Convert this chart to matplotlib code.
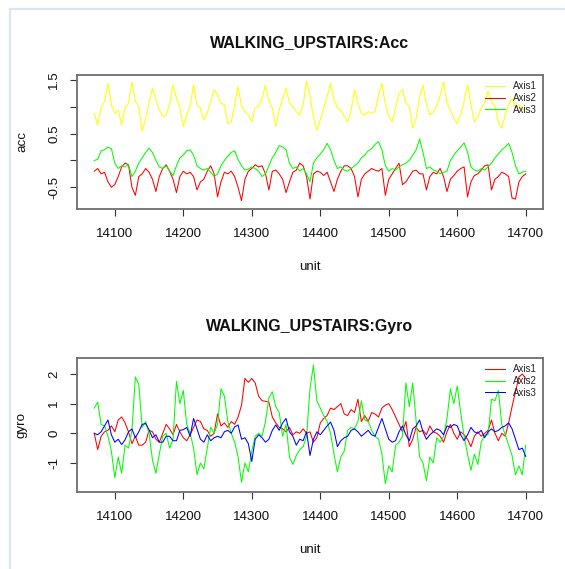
import numpy as np
import matplotlib
matplotlib.use('Agg')
import matplotlib.pyplot as plt
from matplotlib.lines import Line2D

# ---------------- data ----------------
unit = np.arange(14070, 14701, 5)

acc_axis1 = [0.88, 0.66, 0.98, 1.10, 1.44, 1.04, 0.88, 0.94, 0.67, 0.98, 1.07, 1.47, 1.10, 1.01,
             0.54, 0.79, 1.07, 1.35, 1.13, 0.94, 0.82, 0.85, 1.04, 1.41, 1.16, 0.98, 0.63, 0.85,
             1.01, 1.41, 1.04, 0.98, 0.76, 0.88, 1.10, 1.32, 1.22, 1.07, 1.04, 0.69, 0.72,
             1.04, 1.38, 1.01, 0.91, 0.85, 0.72, 0.98, 1.01, 1.16, 1.40, 1.10, 0.98, 0.63, 0.94,
             1.16, 1.35, 1.07, 1.01, 0.91, 0.85, 1.04, 1.48, 1.22, 0.79, 0.57, 0.76, 0.98, 1.19,
             1.44, 1.13, 0.98, 0.94, 0.82, 0.72, 0.94, 1.32, 1.07, 0.88, 0.85, 0.91, 0.88, 0.91,
             1.22, 1.44, 1.04, 0.82,
             0.72, 0.98, 1.26, 1.32, 1.07, 1.01, 0.60, 0.79, 1.19, 1.41, 1.04, 0.85, 0.91, 1.01,
             1.22, 1.47, 1.07, 0.94, 0.79, 0.69, 0.85, 1.10, 1.41, 1.04, 0.72, 0.82, 0.98, 1.07,
             1.29, 1.10, 1.01, 0.72, 0.60, 0.85, 1.04, 1.16, 0.98, 1.04, 0.94, 0.98]

acc_axis2 = [-0.20, -0.15, -0.25, -0.22, -0.40, -0.50, -0.45, -0.30, -0.12, -0.05, -0.08, -0.50,
             -0.65, -0.30, -0.25, -0.15, -0.22, -0.35, -0.58, -0.30, -0.15, -0.08, -0.20, -0.35,
             -0.60, -0.30, -0.20, -0.25, -0.22, -0.30, -0.55, -0.40, -0.35, -0.20, -0.10, -0.25,
             -0.68, -0.40, -0.22, -0.25, -0.20,
             -0.30, -0.50, -0.75, -0.35, -0.20, -0.15, -0.08, -0.12, -0.10, -0.25, -0.55, -0.20,
             -0.18, -0.25, -0.35, -0.60, -0.40, -0.22, -0.18, -0.05, -0.10, -0.30, -0.72, -0.25,
             -0.20, -0.22, -0.28, -0.22, -0.40, -0.58, -0.35, -0.20, -0.10, -0.10, -0.15, -0.30,
             -0.68, -0.35, -0.25, -0.20, -0.15, -0.18, -0.20, -0.15, -0.65, -0.35,
             -0.25, -0.15, -0.05, -0.45, -0.40, -0.30, -0.20, -0.18, -0.25, -0.25, -0.55, -0.30,
             -0.22, -0.25, -0.15, -0.30, -0.58, -0.35, -0.28, -0.20, -0.15, -0.12, -0.68, -0.40,
             -0.28, -0.25, -0.18, -0.10, -0.08, -0.55, -0.35, -0.30, -0.22, -0.25, -0.30, -0.70,
             -0.72, -0.40, -0.30, -0.25]

acc_axis3 = [0.00, 0.02, 0.18, 0.20, 0.25, 0.22, -0.05, -0.15, -0.10, -0.12, -0.08, -0.30, -0.20,
             -0.05, 0.05, 0.15, 0.23, 0.15, 0.00, -0.12, -0.15, -0.10, -0.20, -0.28, -0.10, 0.05,
             0.10, 0.18, 0.20, 0.10, -0.10, -0.15, -0.18, -0.15, -0.22, -0.30, -0.25, -0.10, 0.00,
             0.08, 0.15,
             0.18, 0.02, -0.10, -0.18, -0.16, -0.12, -0.15, -0.20, -0.30, -0.25, -0.10, 0.05, 0.15,
             0.28, 0.25, 0.20, -0.05, -0.15, -0.12, -0.20, -0.15, -0.25, -0.40, -0.05, 0.05, 0.12,
             0.20, 0.32, 0.20, 0.00, -0.15, -0.12, -0.18, -0.20, -0.15, -0.10, -0.05, 0.05, 0.10,
             0.18, 0.22, 0.30, 0.35, 0.20, -0.10, -0.20,
             -0.15, -0.18, -0.12, -0.08, -0.05, 0.00, 0.10, 0.20, 0.40, 0.15, -0.15, -0.12, -0.18,
             -0.20, -0.25, -0.22, -0.20, 0.00, 0.10, 0.18, 0.25, 0.33, 0.15, -0.12, -0.18, -0.20,
             -0.15, -0.18, -0.12, -0.05, 0.05, 0.12, 0.20, 0.25, 0.32, 0.15, -0.10, -0.25, -0.22,
             -0.20]

gyro_axis1 = [0.00, -0.55, -0.10, 0.05, 0.10, 0.25, 0.05, 0.45, 0.55, 0.35, 0.05, -0.35, -0.10,
              -0.40, -0.40, -0.30, 0.10, 0.05, -0.20, -0.30, 0.00, 0.30, 0.15, -0.05, 0.30, 0.05,
              -0.15, -0.25, -0.05, 0.20, 0.45, 0.40, 0.15, 0.10, -0.10, 0.00, 0.65, 0.25, 0.35,
              0.20, 0.40,
              0.30, 0.55, 0.95, 1.85, 1.72, 1.85, 1.70, 1.25, 1.10, 1.08, 1.05, 0.55, 0.35, 0.20,
              0.15, 0.05, 0.20, -0.05, 0.05, 0.00, 0.15, 0.00, 0.05, -0.30, -0.15, 0.35, 0.50,
              0.60, 0.85, 0.80, 0.90, 1.00, 0.65, 0.60, 0.80, 0.70, 1.15, 0.40, 0.60, 0.40, 0.70,
              0.65, 0.55, 0.85, 0.95, 1.00,
              0.80, 0.55, 0.30, 0.05, 0.40, -0.45, -0.20, 0.20, 0.05, 0.10, -0.05, 0.25, 0.05,
              0.00, -0.10, -0.30, 0.05, 0.30, 0.00, -0.20, 0.05, -0.05, -0.20, -0.45, -0.10, 0.05,
              -0.10, 0.00, 0.10, 0.45, 0.00, -0.25, 0.00, -0.10, 0.35, 0.90, 1.40, 1.90, 2.00,
              1.85]

gyro_axis2 = [0.85, 1.05, 0.30, 0.25, -0.10, -0.60, -1.50, -0.80, -1.35, -0.40, -0.50, 0.10, 1.90,
              1.65, 0.20, 0.40, 0.00, -0.90, -1.35, -0.70, -0.10, 0.00, -0.50, -0.20, 1.75, 1.00,
              1.45, 0.30, 0.00, -0.50, -1.40, -1.00, -1.20, -0.50, 0.20, 0.00, 0.30, 1.50, 1.25,
              0.40, 0.00,
              -0.30, -0.80, -1.65, -1.00, -1.30, -0.60, -0.10, 0.00, -0.10, 0.40, 1.20, 1.40, 0.90,
              0.70, -0.10, 0.30, -0.80, -1.05, -0.75, -0.55, -0.45, -0.10, 1.50, 2.30, 1.10, 0.85,
              0.60, 0.40, 0.00, -0.70, -1.30, -0.80, -0.60, 0.10, 0.20, 0.15, 0.40, 1.10, 0.45,
              0.40, 0.10, -0.10, -0.20, -0.70, -1.70, -1.10,
              -1.30, -0.40, -0.30, -0.10, 1.70, 0.90, 1.70, 0.40, -0.80, -1.00, -1.60, -0.80,
              -1.00, -0.15, -0.30, -0.10, 0.50, 1.50, 1.00, 1.60, 0.70, -0.10, -0.70, -1.25,
              -0.70, -1.05, -0.30, -0.05, -0.05, 1.15, 1.10, 1.45, 0.30, -0.05, -0.40, -0.75,
              -1.40, -1.10, -1.40, -0.40]

gyro_axis3 = [0.00, -0.05, 0.05, 0.25, 0.45, -0.05, -0.30, -0.20, -0.38, -0.22, 0.05, 0.15, -0.15,
              0.05, 0.30, 0.33, 0.12, -0.15, -0.05, -0.30, -0.30, -0.10, -0.10, -0.25, -0.25,
              0.10, 0.12, 0.20, -0.10, 0.50, 0.15, -0.20, -0.30, -0.05, -0.25, -0.15, -0.10,
              -0.15, 0.05, 0.10, 0.00,
              0.22, 0.28, -0.20, -0.15, -0.35, -0.95, -0.20, -0.05, -0.15, -0.30, -0.20, 0.10,
              0.28, 0.10, 0.35, 0.50, 0.05, -0.10, -0.40, -0.20, -0.25, 0.05, -0.75, -0.20, 0.05,
              -0.05, 0.10, 0.25, 0.38, 0.10, -0.45, -0.25, -0.15, -0.10, 0.10, 0.15, 0.05, -0.10,
              0.00, 0.10, -0.05, -0.10, 0.20, 0.50, 0.15, -0.20,
              -0.30, -0.25, 0.05, 0.25, -0.05, -0.25, 0.15, 0.25, 0.45, 0.05, -0.20, -0.05, 0.05,
              0.15, 0.10, -0.05, 0.25, 0.20, 0.30, 0.25, -0.05, -0.25, -0.05, 0.20, 0.05, 0.00,
              0.10, -0.15, 0.05, 0.15, 0.05, 0.10, 0.20, 0.25, 0.35, 0.15, -0.20, -0.55, -0.50,
              -0.78]

x_ticks = [14100, 14200, 14300, 14400, 14500, 14600, 14700]
acc_yticks = [-0.5, 0.0, 0.5, 1.0, 1.5]
acc_yticklabels = ['-0.5', '', '0.5', '', '1.5']
gyro_yticks = [-1, 0, 1, 2]
gyro_yticklabels = ['-1', '0', '1', '2']
legend_labels = ['Axis1', 'Axis2', 'Axis3']

acc_colors = ['#FFFF00', '#FF0000', '#00FF00']
gyro_colors = ['#FF0000', '#00FF00', '#0000FF']

# ---------------- figure ----------------
plt.rcParams['font.family'] = ['Liberation Sans', 'DejaVu Sans']
W, H = 565, 569
fig = plt.figure(figsize=(W / 100, H / 100), dpi=100)


def axes_px(l, t, r, b):
    return fig.add_axes([l / W, 1 - b / H, (r - l) / W, (b - t) / H])


def draw_panel(ax, series, colors, title, ylabel, yticks, yticklabels, ylim, top, bottom):
    for vals, col, lab in zip(series, colors, legend_labels):
        ax.plot(unit, vals, color=col, lw=0.75, label=lab)
    ax.set_xlim(14044.8, 14725.2)
    ax.set_ylim(*ylim)
    ax.set_xticks(x_ticks)
    ax.set_xticklabels([str(t) for t in x_ticks])
    ax.set_yticks(yticks)
    ax.set_yticklabels(yticklabels)
    for s in ax.spines.values():
        s.set_color('#6e6e6e')
        s.set_linewidth(1.3)
    ax.tick_params(length=5, width=0.8, color='#333333', labelsize=9.6, labelcolor='#111111')
    ax.tick_params(axis='x', pad=9.0)
    ax.tick_params(axis='y', pad=7.0, labelrotation=90)
    for lbl in ax.get_yticklabels():
        lbl.set_va('center')
    h = bottom - top
    ax.set_xlabel('unit', fontsize=9.6, color='#111111')
    ax.xaxis.set_label_coords(0.5, -(58.0) / h)
    ax.xaxis.label.set_va('center')
    ax.set_ylabel(ylabel, fontsize=9.6, color='#111111')
    ax.yaxis.set_label_coords(-(77 - 22) / 466, 0.5)
    ax.yaxis.label.set_va('center')
    fig.text(310 / W, 1 - (top - 27.5) / H, title, ha='center', va='baseline',
             fontsize=11.5, fontweight='bold', color='#111111')
    leg = ax.legend(loc='upper left', bbox_to_anchor=(0.8755, 1 - 6.0 / h), frameon=False,
                    fontsize=7, handlelength=2.1, handletextpad=0.8, labelspacing=0.2,
                    borderaxespad=0, borderpad=0)
    for t in leg.get_texts():
        t.set_color('#222222')


ax1 = axes_px(77, 75, 543, 208.5)
draw_panel(ax1, [acc_axis1, acc_axis2, acc_axis3], acc_colors, 'WALKING_UPSTAIRS:Acc', 'acc',
           acc_yticks, acc_yticklabels, (-0.896, 1.594), 75, 208.5)

ax2 = axes_px(77, 358, 543, 492)
draw_panel(ax2, [gyro_axis1, gyro_axis2, gyro_axis3], gyro_colors, 'WALKING_UPSTAIRS:Gyro', 'gyro',
           gyro_yticks, gyro_yticklabels, (-1.98, 2.54), 358, 492)

# light-blue frame of the screenshot
fig.add_artist(Line2D([9.5 / W, 9.5 / W], [0, 1 - 8.5 / H], transform=fig.transFigure,
                      color='#dbe5f3', lw=1.6))
fig.add_artist(Line2D([9.5 / W, 1], [1 - 8.5 / H, 1 - 8.5 / H], transform=fig.transFigure,
                      color='#dbe5f3', lw=1.6))

fig.savefig('out.png', dpi=100, facecolor='white')
